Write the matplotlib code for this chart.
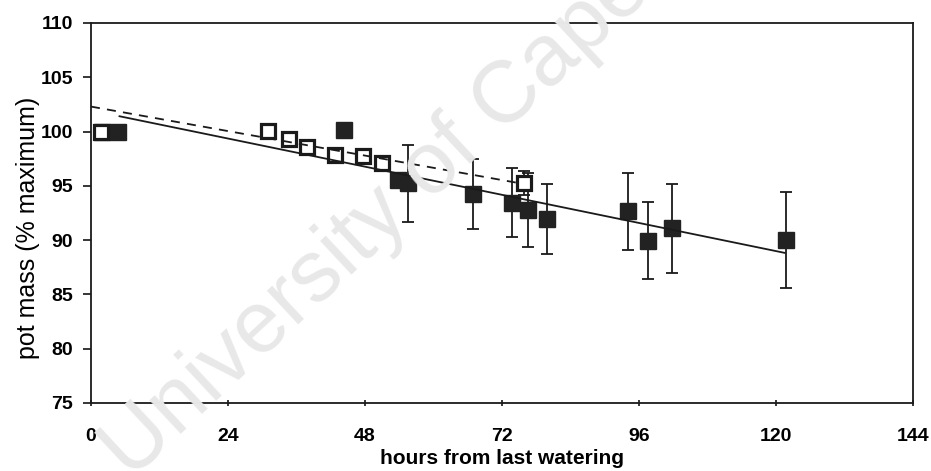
import matplotlib
matplotlib.use("Agg")
import matplotlib.pyplot as plt
import numpy as np

plt.rcParams['font.family'] = ['Liberation Sans', 'DejaVu Sans']

# ---- data ----
open_x = [1.8, 31.0, 34.7, 37.8, 42.7, 47.6, 51.0, 75.8]
open_y = [100.0, 100.05, 99.3, 98.6, 97.8, 97.75, 97.1, 95.3]
open_err = [0, 0, 0, 0, 0, 0, 0, 1.1]

filled_x = [2.0, 4.8, 44.3, 53.8, 55.5, 67.0, 73.7, 76.5, 79.8, 94.0, 97.5, 101.8, 121.8]
filled_y = [100.0, 100.0, 100.1, 95.5, 95.25, 94.25, 93.45, 92.8, 91.95, 92.65, 89.95, 91.1, 90.0]
filled_err = [0, 0, 0, 0, 3.55, 3.25, 3.2, 3.4, 3.25, 3.55, 3.55, 4.1, 4.4]

# regression lines: (x start, x end, intercept, slope)
solid_fit = (5.0, 121.5, 101.95, -0.108)
dashed_fit = (0.0, 75.5, 102.3, -0.094)

xticks = [0, 24, 48, 72, 96, 120, 144]
yticks = [75, 80, 85, 90, 95, 100, 105, 110]
xlabel = "hours from last watering"
ylabel = "pot mass (% maximum)"
watermark = "University of Cape Town"

fig = plt.figure(figsize=(9.31, 4.71), dpi=100)
fig.text(0.14, -0.02, watermark, fontsize=63, color='#e8e8e8',
         rotation=43, rotation_mode='anchor', ha='left', va='baseline', zorder=0)
ax = fig.add_axes([0.0977, 0.1444, 0.8830, 0.8068])
ax.patch.set_alpha(0)

# error bars
ax.errorbar(filled_x, filled_y, yerr=filled_err, fmt='none', ecolor='#1a1a1a',
            elinewidth=1.3, capsize=4.3, capthick=1.3, zorder=2)
ax.errorbar(open_x, open_y, yerr=open_err, fmt='none', ecolor='#1a1a1a',
            elinewidth=1.3, capsize=4.3, capthick=1.3, zorder=2)

ax.plot(filled_x, filled_y, linestyle='none', marker='s', markersize=12,
        markerfacecolor='#222222', markeredgecolor='#222222', zorder=3)
ax.plot(open_x, open_y, linestyle='none', marker='s', markersize=10,
        markerfacecolor='white', markeredgecolor='#1a1a1a', markeredgewidth=2.3, zorder=4)

for fit, ls in ((solid_fit, '-'), (dashed_fit, (0, (5, 4)))):
    x0, x1, b, m = fit
    xs = np.array([x0, x1])
    ax.plot(xs, b + m * xs, color='#1a1a1a', linewidth=1.3, linestyle=ls, zorder=5)

ax.set_xlim(0, 144)
ax.set_ylim(75, 110)
ax.set_xticks(xticks)
ax.set_yticks(yticks)
ax.tick_params(axis='y', direction='out', length=6, width=1.1, labelsize=14, pad=7)
ax.tick_params(axis='x', direction='inout', length=5, width=1.1, labelsize=14, pad=15.5)
for s in ax.spines.values():
    s.set_linewidth(1.3)
    s.set_color('#1a1a1a')

ax.set_xlabel(xlabel, fontsize=15, fontweight='bold', labelpad=3)
ax.set_ylabel(ylabel, fontsize=18)
ax.yaxis.set_label_coords(-0.062, 0.46)
for lab in ax.get_xticklabels() + ax.get_yticklabels():
    lab.set_fontweight('bold')

fig.savefig("out.png", dpi=100)
